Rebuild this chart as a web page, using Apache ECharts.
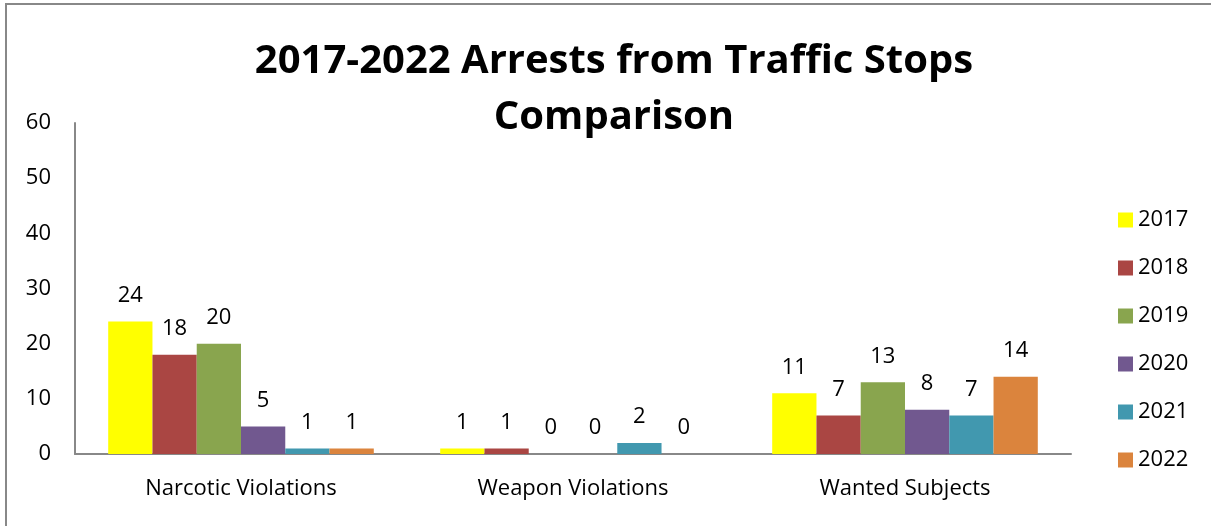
<!DOCTYPE html>
<html>
<head>
<meta charset="utf-8">
<script src="https://cdn.jsdelivr.net/npm/echarts@6/dist/echarts.min.js"></script>
<style>
  html, body { margin: 0; padding: 0; background: #fff; }
  #main { width: 1211px; height: 526px; }
</style>
</head>
<body>
<div id="main"></div>
<script>
// categories + one array per year
var categories = ['Narcotic Violations', 'Weapon Violations', 'Wanted Subjects'];
var years = ['2017', '2018', '2019', '2020', '2021', '2022'];
var v2017 = [24, 1, 11];
var v2018 = [18, 1, 7];
var v2019 = [20, 0, 13];
var v2020 = [5, 0, 8];
var v2021 = [1, 2, 7];
var v2022 = [1, 0, 14];
var yTicks = [0, 10, 20, 30, 40, 50, 60];

var colors = ['#FFFF00', '#AA4643', '#89A54E', '#71588F', '#4198AF', '#DB843D'];
var values = [v2017, v2018, v2019, v2020, v2021, v2022];
var font = '"Open Sans", sans-serif';

var series = years.map(function (y, i) {
  return {
    name: y,
    type: 'bar',
    data: values[i],
    barGap: '0%',
    barCategoryGap: '20%',
    itemStyle: { color: colors[i] },
    label: {
      show: true,
      position: 'top',
      distance: 15,
      color: '#000',
      fontSize: 22,
      fontFamily: font
    }
  };
});

var myChart = echarts.init(document.getElementById('main'));
myChart.setOption({
  animation: false,
  title: {
    text: '2017-2022 Arrests from Traffic Stops\nComparison',
    left: 609,
    textAlign: 'center',
    top: 29,
    textStyle: {
      fontFamily: font,
      fontWeight: 'bold',
      fontSize: 40,
      lineHeight: 56,
      color: '#000'
    }
  },
  legend: {
    orient: 'vertical',
    left: 1113,
    top: 204,
    itemWidth: 15,
    itemHeight: 15,
    itemGap: 26,
    icon: 'rect',
    textStyle: { fontFamily: font, fontSize: 22, color: '#000', lineHeight: 22 },
    data: years
  },
  grid: { left: 75, right: 140, top: 123, bottom: 72 },
  xAxis: {
    type: 'category',
    data: categories,
    axisTick: { show: false },
    axisLine: { lineStyle: { color: '#888', width: 2 } },
    axisLabel: { color: '#000', fontSize: 22, fontFamily: font, margin: 24 }
  },
  yAxis: {
    type: 'value',
    min: yTicks[0],
    max: yTicks[yTicks.length - 1],
    interval: 10,
    splitLine: { show: false },
    axisTick: { show: false },
    axisLine: { show: true, lineStyle: { color: '#888', width: 2 } },
    axisLabel: { color: '#000', fontSize: 22, fontFamily: font, margin: 24 }
  },
  graphic: [
    { type: 'line', shape: { x1: 5, y1: 4, x2: 1211, y2: 4 }, style: { stroke: '#888', lineWidth: 2 } },
    { type: 'line', shape: { x1: 6, y1: 4, x2: 6, y2: 526 }, style: { stroke: '#888', lineWidth: 2 } }
  ],
  series: series
});
</script>
</body>
</html>
